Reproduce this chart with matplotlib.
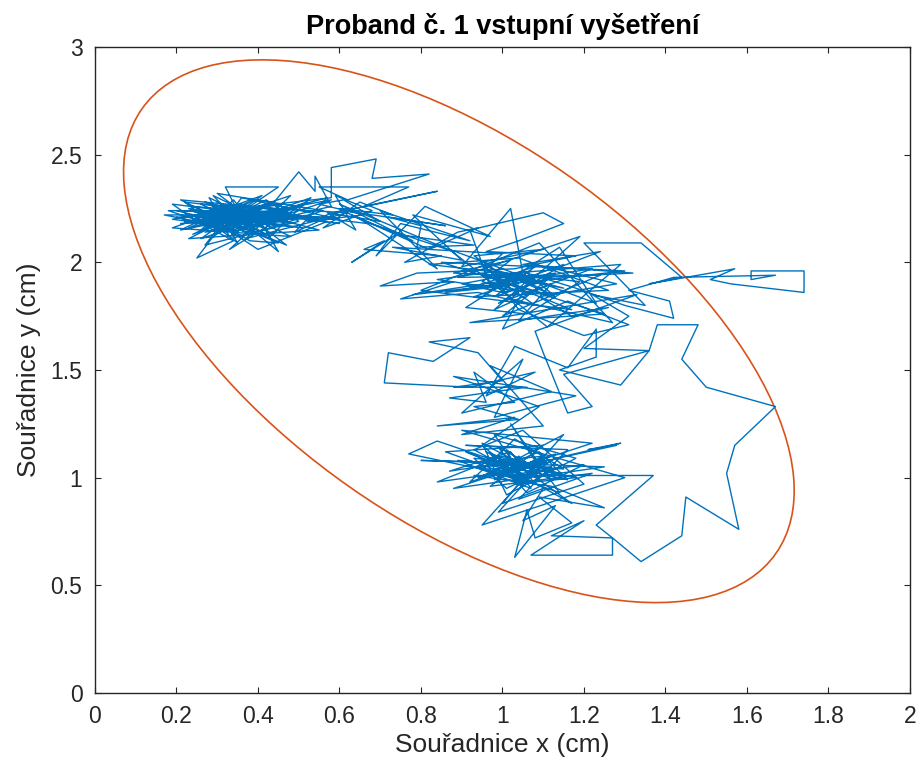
import numpy as np
import matplotlib
matplotlib.use("Agg")
import matplotlib.pyplot as plt
from matplotlib.patches import Ellipse

# centre-of-pressure trajectory (cm), in drawing order
sway_left = [
    (0.33, 2.20), (0.24, 2.22), (0.38, 2.18), (0.28, 2.25), (0.43, 2.22), (0.20, 2.21), (0.31, 2.15), (0.46, 2.25),
    (0.27, 2.19), (0.36, 2.27), (0.23, 2.16), (0.34, 2.21), (0.49, 2.18), (0.30, 2.24), (0.19, 2.20), (0.39, 2.15),
    (0.27, 2.28), (0.44, 2.19), (0.35, 2.23), (0.24, 2.13), (0.41, 2.25), (0.31, 2.18), (0.53, 2.22), (0.37, 2.16),
    (0.26, 2.21), (0.46, 2.27), (0.33, 2.12), (0.29, 2.26), (0.48, 2.20), (0.21, 2.18), (0.37, 2.22), (0.17, 2.22),
    (0.25, 2.19), (0.19, 2.27), (0.32, 2.24), (0.42, 2.13), (0.28, 2.17), (0.39, 2.29), (0.30, 2.22), (0.51, 2.16),
    (0.35, 2.19), (0.29, 2.12), (0.25, 2.02), (0.34, 2.10), (0.27, 2.17), (0.40, 2.21), (0.29, 2.31), (0.33, 2.23),
    (0.45, 2.17), (0.23, 2.24), (0.36, 2.20), (0.32, 2.35), (0.45, 2.35), (0.38, 2.26), (0.48, 2.23), (0.30, 2.20),
    (0.42, 2.16), (0.26, 2.23), (0.38, 2.10), (0.45, 2.09), (0.35, 2.17), (0.50, 2.26), (0.41, 2.19), (0.55, 2.21),
]

sway_core = [
    (0.27, 2.21), (0.36, 2.18), (0.22, 2.19), (0.40, 2.23), (0.30, 2.16), (0.25, 2.24), (0.43, 2.20), (0.33, 2.26),
    (0.21, 2.15), (0.37, 2.21), (0.28, 2.18), (0.46, 2.22), (0.31, 2.25), (0.24, 2.20), (0.39, 2.17), (0.34, 2.29),
    (0.26, 2.15), (0.42, 2.26), (0.29, 2.22), (0.35, 2.14), (0.23, 2.25), (0.38, 2.20), (0.32, 2.17), (0.47, 2.24),
    (0.27, 2.14), (0.41, 2.18), (0.30, 2.28), (0.36, 2.23), (0.20, 2.24), (0.33, 2.18), (0.44, 2.28),
    (0.50, 2.42), (0.54, 2.33), (0.54, 2.40), (0.58, 2.26), (0.47, 2.21), (0.60, 2.18), (0.43, 2.23), (0.57, 2.30),
    (0.49, 2.14), (0.62, 2.25), (0.52, 2.19), (0.66, 2.22), (0.55, 2.27), (0.61, 2.29), (0.70, 2.19), (0.57, 2.23),
    (0.64, 2.15), (0.59, 2.31), (0.68, 2.24), (0.62, 2.20), (0.56, 2.16), (0.65, 2.28), (0.73, 2.22), (0.60, 2.25),
    (0.67, 2.18),
]

sway_left2 = [
    (0.22, 2.28), (0.35, 2.09), (0.28, 2.30), (0.48, 2.12), (0.19, 2.16), (0.41, 2.31), (0.26, 2.11), (0.52, 2.28),
    (0.33, 2.06), (0.44, 2.25), (0.21, 2.29), (0.38, 2.13), (0.56, 2.24), (0.30, 2.32), (0.47, 2.08), (0.24, 2.26),
    (0.60, 2.20), (0.36, 2.30), (0.27, 2.08), (0.50, 2.19), (0.42, 2.29), (0.23, 2.11), (0.55, 2.15), (0.31, 2.27),
    (0.45, 2.05), (0.39, 2.24), (0.18, 2.24), (0.34, 2.14), (0.58, 2.29), (0.29, 2.19), (0.48, 2.31), (0.37, 2.11),
    (0.62, 2.23), (0.26, 2.27), (0.43, 2.12), (0.53, 2.30), (0.32, 2.16), (0.40, 2.06), (0.57, 2.19), (0.35, 2.25),
]

sway_bridge = [
    (0.58, 2.30), (0.58, 2.44), (0.69, 2.48), (0.68, 2.39), (0.82, 2.41), (0.62, 2.29), (0.55, 2.35), (0.77, 2.35),
    (0.66, 2.26), (0.84, 2.33), (0.69, 2.27), (0.61, 2.24), (0.86, 2.17), (0.72, 2.21), (0.80, 2.17), (0.79, 2.07),
    (0.93, 2.08), (0.74, 2.13), (0.63, 2.00), (0.71, 2.10), (0.66, 2.06), (0.85, 2.03), (0.76, 2.00), (0.89, 2.14),
    (0.94, 2.16), (0.82, 2.06),
    (0.63, 2.22), (0.78, 2.10), (0.60, 2.27), (0.88, 2.05), (0.66, 2.19), (0.84, 1.97), (0.70, 2.24), (0.92, 2.10),
    (0.75, 2.18), (0.69, 2.03), (0.81, 2.26), (0.97, 2.12), (0.78, 2.22), (0.90, 2.01), (0.73, 2.07), (1.00, 2.04),
]

sway_middle = [
    (0.96, 1.97), (1.04, 1.90), (0.92, 1.88), (1.08, 1.98), (0.98, 1.84), (1.12, 1.93), (0.88, 1.95), (1.02, 2.01),
    (0.95, 1.91), (1.06, 1.86), (0.84, 1.92), (0.99, 1.96), (1.15, 1.88), (1.01, 1.93), (0.93, 2.03), (1.10, 2.06),
    (0.90, 1.98), (1.02, 2.25), (1.05, 1.95), (0.97, 1.89), (0.92, 2.15), (1.10, 2.23), (1.15, 2.18), (1.04, 2.10),
    (0.96, 2.05), (1.18, 2.03), (1.03, 1.97), (0.79, 1.95), (0.70, 1.89), (0.88, 1.91), (0.75, 1.83), (0.94, 1.86),
    (1.08, 1.80), (0.99, 1.92), (1.32, 1.95), (1.05, 1.99), (1.24, 2.05), (1.13, 1.97), (1.28, 1.90), (1.09, 1.84),
    (1.17, 1.75), (1.26, 1.79), (1.04, 1.73), (1.12, 1.90), (0.98, 1.78), (1.07, 1.93), (1.00, 1.69), (1.16, 1.82),
    (1.31, 1.71), (1.20, 1.66), (1.04, 1.78),
]

sway_middle2 = [
    (0.98, 1.93), (1.05, 1.88), (0.94, 1.95), (1.10, 1.91), (1.00, 1.86), (0.90, 1.90), (1.07, 1.96), (0.97, 1.87),
    (1.03, 1.94), (1.12, 1.85), (0.95, 1.99), (1.01, 1.89), (0.86, 1.86), (1.08, 1.93), (1.22, 1.97), (0.99, 1.81),
    (1.15, 1.99), (0.93, 1.84), (1.26, 1.87), (1.04, 2.02), (0.82, 1.99), (1.19, 1.91), (1.06, 1.76), (0.91, 1.79),
    (1.14, 2.07), (1.23, 1.81), (0.87, 2.06), (1.11, 1.70), (1.29, 1.99), (0.96, 1.94), (1.17, 1.78), (0.80, 1.87),
    (1.09, 2.09), (1.27, 1.72), (1.02, 1.83), (1.19, 2.12), (0.89, 1.93), (1.24, 1.94), (1.00, 1.75), (1.13, 1.95),
    (0.78, 1.85), (1.30, 1.96), (0.85, 2.00), (1.25, 1.76), (0.92, 1.72), (1.33, 1.85), (1.08, 1.68),
]

sway_descent = [
    (1.10, 1.58), (1.16, 1.30), (1.22, 1.33), (1.15, 1.48), (1.36, 1.59), (1.29, 1.43), (1.14, 1.50), (1.23, 1.56),
    (1.23, 1.69), (1.16, 1.51), (1.03, 1.61), (0.96, 1.38), (1.08, 1.49), (0.92, 1.42), (0.71, 1.44), (0.72, 1.58),
    (0.83, 1.54), (0.92, 1.65), (0.82, 1.63), (0.94, 1.58), (1.00, 1.45), (0.88, 1.42), (1.06, 1.42), (0.87, 1.37),
    (0.96, 1.35), (0.93, 1.49), (1.03, 1.35), (0.93, 1.33), (1.04, 1.27), (0.84, 1.24), (1.03, 1.28), (0.90, 1.20),
    (1.10, 1.24), (0.97, 1.52), (1.12, 1.40), (0.90, 1.30), (1.05, 1.55), (0.98, 1.28), (1.18, 1.38), (0.88, 1.47),
    (1.09, 1.33), (0.95, 1.15),
]

sway_lower2 = [
    (1.02, 1.04), (0.97, 1.09), (1.08, 1.02), (1.01, 1.13), (1.05, 0.98), (0.94, 1.05), (1.11, 1.07), (0.99, 1.01),
    (1.04, 1.10), (1.09, 1.00), (0.96, 1.12), (1.06, 1.05), (1.13, 1.11), (0.92, 0.98), (1.03, 1.18), (1.15, 1.04),
    (0.89, 1.08), (1.07, 0.95), (0.98, 1.20), (1.18, 1.09), (1.01, 0.92), (0.95, 1.16), (1.12, 0.99), (1.06, 1.14),
    (0.91, 1.15), (1.16, 1.13), (1.04, 0.90), (1.22, 1.02), (0.97, 0.96), (1.10, 1.15), (0.86, 1.12), (1.14, 0.93),
    (1.02, 1.25), (1.09, 1.05), (0.99, 0.84), (1.20, 0.97), (1.05, 1.22), (0.93, 1.13), (1.17, 0.88), (1.03, 1.07),
    (0.80, 1.08), (1.25, 1.05), (0.88, 0.95), (1.22, 1.16), (0.90, 1.22), (1.30, 1.00), (0.95, 0.78), (1.15, 1.20),
]

sway_lower = [
    (1.00, 1.05), (0.91, 1.12), (1.06, 1.01), (0.95, 1.07), (1.10, 1.10), (0.98, 0.99), (1.04, 1.08), (0.87, 1.03),
    (1.02, 1.12), (1.08, 0.97), (0.96, 1.04), (1.12, 1.05), (1.01, 0.95), (0.93, 1.09), (1.07, 1.06), (0.99, 1.14),
    (1.05, 1.00), (0.77, 1.11), (0.84, 1.17), (0.98, 1.08), (1.03, 1.03), (0.84, 0.98), (1.00, 1.10), (1.14, 1.02),
    (1.02, 1.06), (0.94, 1.00), (1.09, 1.12), (1.16, 0.99), (1.04, 1.04), (0.97, 1.11), (1.06, 0.93), (1.20, 1.06),
    (1.01, 1.01), (1.11, 1.08), (0.99, 1.03), (1.28, 1.15), (1.21, 1.13), (1.29, 1.16), (1.13, 1.09), (1.03, 0.97),
    (1.18, 1.00), (1.07, 1.04), (1.00, 0.88), (1.10, 0.95), (1.05, 0.80), (1.13, 0.87), (1.03, 0.63), (1.06, 0.85),
    (1.08, 0.72), (1.17, 0.79), (1.09, 0.91), (1.25, 0.86), (1.12, 0.96), (0.93, 1.01), (1.37, 1.01), (1.23, 0.78),
    (1.27, 0.72), (1.12, 0.73), (1.20, 0.80), (1.07, 0.64), (1.27, 0.64), (1.27, 0.72),
]

sway_right = [
    (1.34, 0.61), (1.44, 0.73), (1.45, 0.91), (1.58, 0.76), (1.55, 1.02), (1.57, 1.15), (1.67, 1.33), (1.50, 1.42),
    (1.44, 1.55), (1.48, 1.71), (1.38, 1.71), (1.36, 1.59), (1.20, 1.60), (1.31, 1.75), (1.22, 1.85), (1.35, 1.80),
    (1.20, 2.09), (1.34, 2.09), (1.44, 1.93), (1.36, 1.90), (1.57, 1.97), (1.51, 1.92), (1.56, 1.90), (1.74, 1.86),
    (1.74, 1.96), (1.61, 1.96), (1.61, 1.92), (1.67, 1.94), (1.42, 1.93), (1.31, 1.87), (1.41, 1.82), (1.42, 1.74),
    (1.30, 1.80), (1.18, 1.88), (1.06, 1.95), (1.13, 1.84), (1.02, 1.90),
]

# 95 % confidence ellipse (centre, semi-axes, tilt in degrees)
ell_center = (0.893, 1.68)
ell_semi_major = 1.376
ell_semi_minor = 0.610
ell_angle = -63.4

x_ticks = [0, 0.2, 0.4, 0.6, 0.8, 1, 1.2, 1.4, 1.6, 1.8, 2]
y_ticks = [0, 0.5, 1, 1.5, 2, 2.5, 3]

plt.rcParams['font.family'] = ['Liberation Sans', 'DejaVu Sans']
axis_color = '#262626'

fig = plt.figure(figsize=(9.23, 7.78), dpi=100)
ax = fig.add_axes([0.1029, 0.1093, 0.883, 0.8303])

path = np.array(sway_left + sway_core + sway_left2 + sway_bridge + sway_middle + sway_middle2
                + sway_descent + sway_lower2 + sway_lower + sway_right)
ax.plot(path[:, 0], path[:, 1], color='#0072BD', linewidth=1.0)

ax.add_patch(Ellipse(ell_center, 2 * ell_semi_major, 2 * ell_semi_minor, angle=ell_angle,
                     fill=False, edgecolor='#D95319', linewidth=1.2))

ax.set_xlim(0, 2)
ax.set_ylim(0, 3)
ax.set_xticks(x_ticks)
ax.set_yticks(y_ticks)
ax.set_xticklabels([f"{v:g}" for v in x_ticks])
ax.set_yticklabels([f"{v:g}" for v in y_ticks])
ax.tick_params(direction='in', length=4, width=0.8, top=True, right=True,
               labelsize=16.5, colors=axis_color)
ax.tick_params(axis='x', pad=9)
ax.tick_params(axis='y', pad=9)
for sp in ax.spines.values():
    sp.set_color(axis_color)
    sp.set_linewidth(1.0)

ax.set_title('Proband č. 1 vstupní vyšetření', fontsize=19.5, fontweight='bold', pad=9, color='black')
ax.set_xlabel('Souřadnice x (cm)', fontsize=19, color=axis_color, labelpad=3)
ax.set_ylabel('Souřadnice y (cm)', fontsize=19, color=axis_color, labelpad=7)

fig.savefig('out.png', dpi=100)
